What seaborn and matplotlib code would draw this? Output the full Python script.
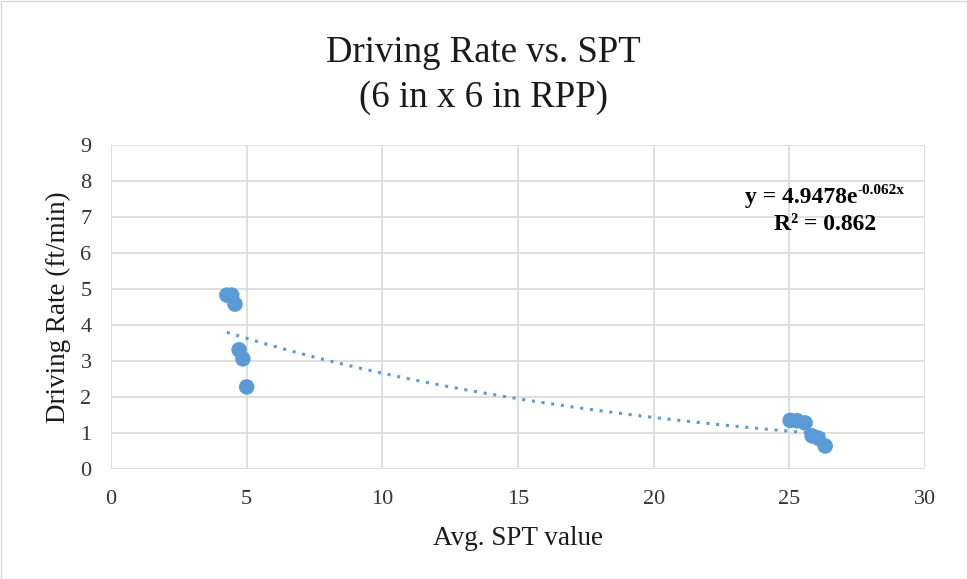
import numpy as np
import pandas as pd
import seaborn as sns
import matplotlib
matplotlib.use("Agg")
import matplotlib.pyplot as plt
from matplotlib.patches import Rectangle

# Average SPT value vs. measured driving rate
spt = [4.27, 4.45, 4.57, 4.72, 4.86, 5.00, 25.03, 25.29, 25.58, 25.84, 26.06, 26.32]
rate = [4.83, 4.83, 4.58, 3.31, 3.06, 2.28, 1.35, 1.34, 1.28, 0.92, 0.86, 0.64]

# Exponential trendline coefficients
coef_a = 4.9478
coef_b = -0.062
r_squared = 0.862

x_ticks = [0, 5, 10, 15, 20, 25, 30]
y_ticks = [0, 1, 2, 3, 4, 5, 6, 7, 8, 9]

sns.set_theme(style="white")
plt.rcParams["font.family"] = ["Liberation Serif", "DejaVu Serif"]

color = "#5B9BD5"
df = pd.DataFrame({"spt": spt, "rate": rate})

W, H = 967, 579
fig = plt.figure(figsize=(W / 100, H / 100), dpi=100)
ax = fig.add_axes([111 / W, 1 - 469 / H, (925 - 111) / W, (469 - 145) / H])

# Trendline from min to max SPT
xs = np.linspace(min(spt), max(spt), 200)
ax.plot(xs, coef_a * np.exp(coef_b * xs), linestyle=(0, (1, 2.2)), color=color,
        linewidth=2.2, zorder=2)

sns.scatterplot(data=df, x="spt", y="rate", ax=ax, color=color, s=125,
                edgecolor="none", zorder=3)

ax.set_xlim(0, 30)
ax.set_ylim(0, 9)
ax.set_xticks(x_ticks)
ax.set_yticks(y_ticks)
ax.tick_params(axis="both", labelsize=16, length=0, colors="#333333")
ax.tick_params(axis="x", pad=15)
ax.tick_params(axis="y", pad=14)
ax.grid(True, color="#D9D9D9", linewidth=1.2)
ax.set_axisbelow(True)
for s in ax.spines.values():
    s.set_visible(False)

ax.set_xlabel("Avg. SPT value", fontsize=19.5, color="#1a1a1a")
ax.set_ylabel("Driving Rate (ft/min)", fontsize=19.5, color="#1a1a1a")
ax.xaxis.set_label_coords((518 - 111) / 814, (469 - 526) / 324)
ax.yaxis.set_label_coords((71 - 111) / 814, 0.5)

fig.text(0.5, 1 - 53 / H, "Driving Rate vs. SPT", ha="center", va="center",
         fontsize=26.5, color="#1a1a1a")
fig.text(0.5, 1 - 98 / H, "(6 in x 6 in RPP)", ha="center", va="center",
         fontsize=26.5, color="#1a1a1a")

# Trendline equation with superscript exponent
eq_main = fig.text(745 / W, 1 - 198 / H, "y = %.4fe" % coef_a, ha="left",
                   va="center", fontsize=17, fontweight="bold", color="black")
fig.canvas.draw()
bb = eq_main.get_window_extent()
fig.text(bb.x1 / W + 0.5 / W, 1 - 190 / H, "%.3fx" % coef_b, ha="left",
         va="center", fontsize=11, fontweight="bold", color="black")
fig.text(825 / W, 1 - 224 / H, "R² = %.3f" % r_squared, ha="center",
         va="center", fontsize=17, fontweight="bold", color="black")

fig.patches.append(Rectangle((0.5 / W, 0.5 / H), 1 - 1 / W, 1 - 1 / H,
                             transform=fig.transFigure, fill=False,
                             edgecolor="#D9D9D9", linewidth=1))

fig.savefig("out.png", dpi=100, facecolor="white")
